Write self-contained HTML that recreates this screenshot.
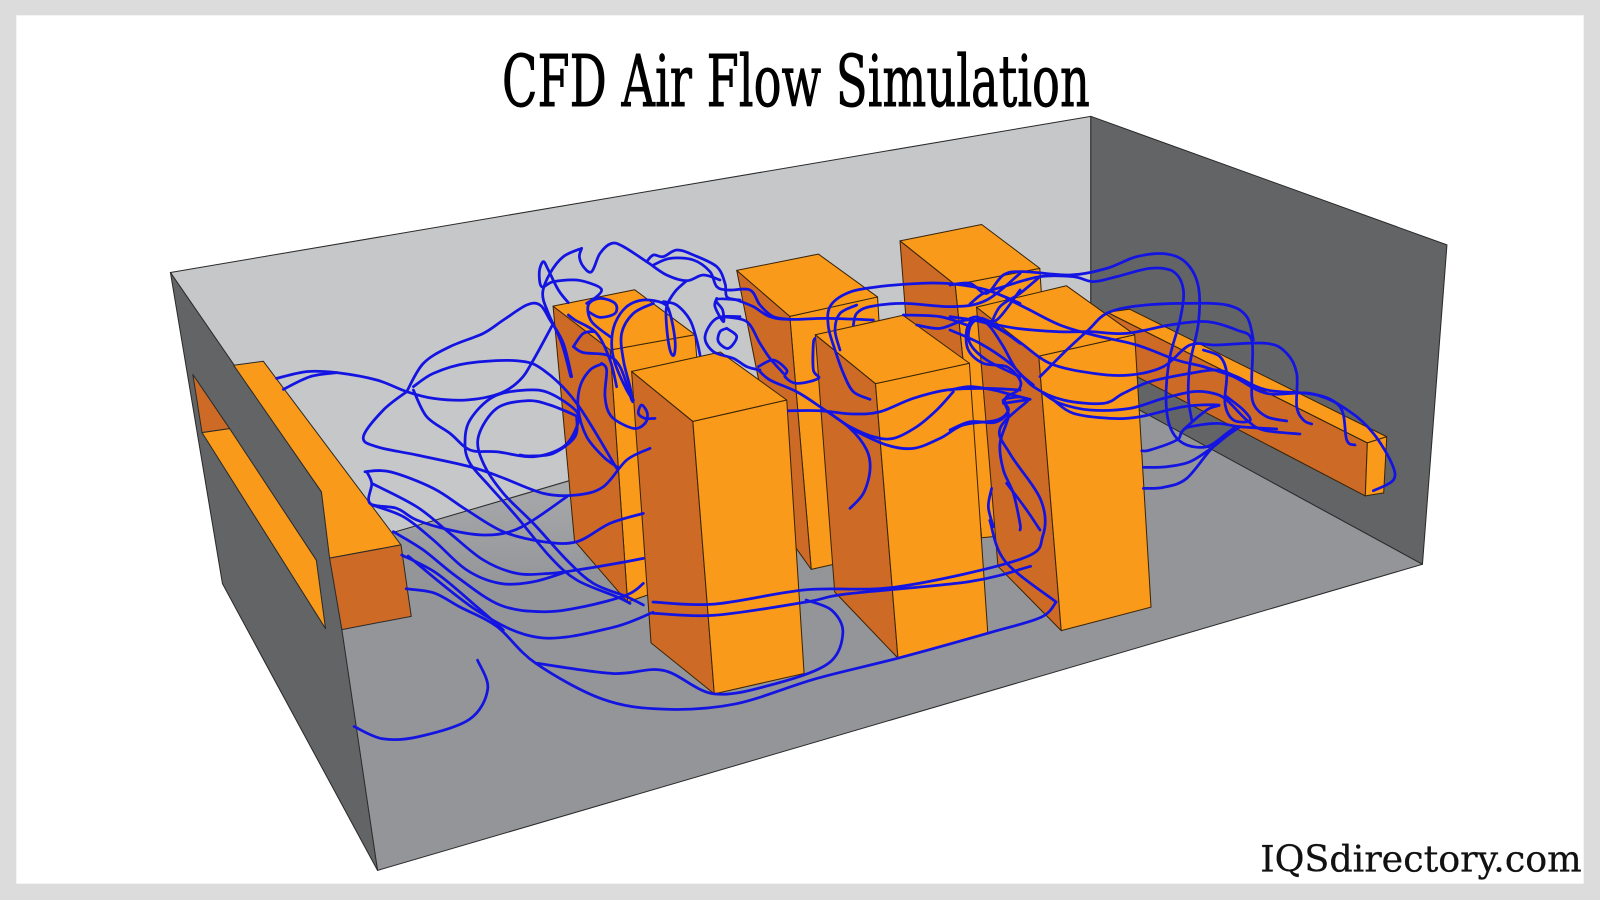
<!DOCTYPE html>
<html><head><meta charset="utf-8"><title>CFD Air Flow Simulation</title>
<style>html,body{margin:0;padding:0;background:#dcdcdc}svg{display:block}</style></head>
<body>
<svg xmlns="http://www.w3.org/2000/svg" width="1600" height="900" viewBox="0 0 1568 882">
<defs><linearGradient id="fp" x1="0" y1="0" x2="0" y2="1"><stop offset="0" stop-color="#a8a9ab"/><stop offset="1" stop-color="#939598"/></linearGradient></defs>
<rect width="1568" height="882" fill="#dcdcdc"/>
<rect x="16" y="15" width="1536" height="851" fill="#fff"/>
<g stroke="#2a2a2a" stroke-width="1" stroke-linejoin="round">
<polygon points="167,267 1069,114 1069,330 385,522 330,540" fill="#c5c7c9"/>
<polygon points="1069,114 1418,240 1394,553 1069,376" fill="#636466"/>
<polygon points="385,522 558,471 1069,322 1117,402 1394,553 370,853 320,540" fill="#939598"/>
<polygon points="387,522 558,472 575,560 470,575" fill="url(#fp)" stroke="none"/>
<polygon points="167,267 218,572 370,853 315,482" fill="#636466"/>
<polygon points="189,367 198,424 225,420" fill="#cd6b26"/>
<polygon points="198,424 225,420 310,549 319,616" fill="#fa9a1a"/>
<polygon points="229,358 258,354 393,534 323,547 315,482" fill="#fa9a1a"/>
<polygon points="323,547 393,534 403,604 335,617" fill="#cd6b26"/>
</g>
<g stroke="#3a2408" stroke-width="1" stroke-linejoin="round">
<!-- col 1 -->
<polygon points="598,343 681,328 700,560 615,590" fill="#fa9a1a"/>
<polygon points="542,300 598,343 615,590 563,530" fill="#cd6b26"/>
<polygon points="542,300 622,284 681,328 598,343" fill="#fa9a1a"/>
<!-- col 2 -->
<polygon points="774,310 860,291 875,540 795,558" fill="#fa9a1a"/>
<polygon points="722,265 774,310 795,558 775,530" fill="#cd6b26"/>
<polygon points="722,265 802,249 860,291 774,310" fill="#fa9a1a"/>
<!-- col 3 -->
<polygon points="936,279 1019,263 1035,520 962,527" fill="#fa9a1a"/>
<polygon points="882,236 936,279 962,527 900,470" fill="#cd6b26"/>
<polygon points="882,236 962,220 1019,263 936,279" fill="#fa9a1a"/>
<!-- beam -->
<polygon points="1085,306 1340,434 1338,486 1114,369 1090,360" fill="#cd6b26"/>
<polygon points="1085,306 1107,303 1359,428 1340,434" fill="#fa9a1a"/>
<polygon points="1340,434 1359,428 1356,483 1338,486" fill="#fa9a1a"/>
<!-- col 5 -->
<polygon points="619,364 679,413 700,680 638,630" fill="#cd6b26"/>
<polygon points="679,413 771,392 788,660 700,680" fill="#fa9a1a"/>
<polygon points="619,364 706,345 771,392 679,413" fill="#fa9a1a"/>
<!-- col 6 -->
<polygon points="799,328 858,376 880,645 818,580" fill="#cd6b26"/>
<polygon points="858,376 950,356 968,620 880,645" fill="#fa9a1a"/>
<polygon points="799,328 885,309 950,356 858,376" fill="#fa9a1a"/>
<!-- col 7 -->
<polygon points="957,301 1018,349 1040,618 978,555" fill="#cd6b26"/>
<polygon points="1018,349 1112,328 1128,595 1040,618" fill="#fa9a1a"/>
<polygon points="957,301 1045,280 1112,328 1018,349" fill="#fa9a1a"/>
</g>
<g id="lines" fill="none" stroke="#1414e2" stroke-width="2.7" stroke-linecap="round" stroke-linejoin="round"></g>
<text x="492" y="104" font-family="'DejaVu Serif','Liberation Serif',serif" font-size="70" fill="#000" stroke="#000" stroke-width="0.9" textLength="576" lengthAdjust="spacingAndGlyphs">CFD Air Flow Simulation</text>
<text x="1235" y="854" font-family="'DejaVu Serif','Liberation Serif',serif" font-size="36" fill="#111" stroke="#111" stroke-width="0.3" textLength="315" lengthAdjust="spacingAndGlyphs">IQSdirectory.com</text>
</svg>
<script>
var A=[
[380,445,470,425,560,428,680,450,770,485,850,505,950,510,1050,490,1110,450,1150,390,1210,280],
[400,478,480,440,560,428],
[770,485,700,540,640,620,680,650,800,675,960,710,1050,740,1180,790,1280,795,1360,770,1430,690,1500,655],
[770,485,820,400,900,350,1000,310,1060,270,1130,225,1170,225,1200,270,1240,340,1265,440],
[790,480,830,560,900,610,960,660,1040,665,1150,680,1240,650,1280,590,1280,545,1200,490,1130,480,1030,500,960,570,945,640,960,700,1020,770,1100,860,1200,980,1280,1050,1400,1100,1440,1120],
[790,470,850,430,950,400,1100,392,1180,420,1280,520,1400,715],
[1285,560,1200,525,1130,512,1040,535,985,620,1000,700,1060,790,1150,880,1250,990,1330,1060,1430,1100,1480,1125],
[645,725,720,725,850,775,950,840,1060,905,1180,935,1280,935,1380,880,1480,850],
[650,725,665,760,660,820,740,835,800,870,900,900,1000,915,1080,905,1150,870,1250,800],
[665,760,800,830,900,910,1000,990,1100,1030,1200,1030,1280,1020,1400,1000,1480,985],
[665,825,760,860,850,930,950,1020,1050,1060,1150,1055,1250,1025],
[730,905,820,960,920,1040,1050,1125,1180,1145,1300,1130,1430,1095,1480,1060],
[755,975,860,1030,980,1130,1060,1200]
];
var B=[
[185,115,130,140,90,190,68,250,85,310,125,400,152,500],
[145,278,115,240,85,180,70,155,58,185,65,230,100,215,170,210,225,225,245,240,230,260,200,280],
[185,115,178,140,190,170,215,185,240,130,275,100,310,110,380,155,440,195,500,212,550,195,600,210],
[500,212,465,245,440,290,440,350,450,420,462,435,465,390,450,310,430,280,370,270,320,290,285,340,275,400,285,460,320,540,340,570],
[430,275,470,285,510,330,530,390,540,435],
[270,380,215,335,205,285,240,265,285,280,285,310,240,322,205,305],
[400,280,340,310,305,370,310,450,330,530,338,575],
[145,315,165,330,230,370,270,450,290,530],
[160,410,190,370,225,365],
[160,410,190,428,260,435,300,470,335,570],
[245,460,260,480,255,560,275,620,340,655,375,640,382,610,365,585,355,610,375,625,405,625],
[245,462,210,480,180,530,175,600,200,680,250,740,290,770],
[170,620,165,680,100,730,30,738,0,735],
[380,155,400,135,430,140,470,120,520,135,590,170,615,220,620,260,650,270,700,290,750,320,810,328,920,325,1060,330],
[400,165,450,145,520,150,570,185,590,230,625,240,690,240,720,285,760,320,810,328],
[590,265,585,290,610,335,608,300,590,268,660,270],
[660,320,590,325,555,380,580,425,640,445,680,470,720,480],
[620,355,650,380,625,415,595,395,600,365,620,355],
[610,320,680,335,720,400,750,445,790,490],
[715,470,760,450,800,480,795,500,830,520,895,505,880,480,880,400,885,385],
[715,480,750,510,830,545,900,590,990,655,1040,720,1050,780,1030,850,990,895],
[805,602,900,602,1000,612,1080,605,1180,565,1280,540,1400,535,1500,540],
[930,610,990,650,1060,680,1120,685,1190,650,1250,600,1300,545],
[1000,660,1100,705,1180,715,1260,685,1330,645,1430,630,1465,600,1450,570,1500,560],
[1050,568,1000,545,970,490,945,420,925,350,930,290,980,250,1060,232,1200,220,1300,222,1400,240,1500,280],
[1000,345,1010,310,1050,290,1150,280,1300,290,1400,270,1500,190],
[960,420,945,360,960,310,1010,285],
[1150,315,1260,320,1340,345],
[1190,345,1260,355,1340,330,1420,345,1500,400],
[1500,240,1430,330,1380,325,1350,350,1350,400,1400,450,1500,500]
];
var C=[
[0,165,60,160,110,190,160,135,220,125,360,135,470,115,560,80,650,72,710,100,745,170,745,280,720,400,715,500,725,570],
[60,222,100,190,160,170,270,140,370,140,430,155,500,140,600,115,670,125,700,180,690,270,660,380,648,500,660,590,700,640,770,650,830,610,850,595],
[120,290,150,230,210,190,270,140],
[120,280,200,295,320,305,420,305,530,310,660,285,770,275,860,300,905,330,905,450,910,520,950,560,1010,573],
[0,260,110,280,200,330,300,400,430,430,540,435,640,410,720,345,800,345,950,340,1010,370,1040,430,1040,530,1060,570,1085,582],
[270,440,350,360,415,300,470,250,560,228,700,220,830,225,890,260,910,330],
[170,205,230,235,330,285,430,315,560,345,680,390,760,410,850,440,950,490,1080,490,1170,530,1190,630,1215,645],
[0,300,90,340,180,400,250,470,340,510,460,520,520,490,600,455,720,430,800,420,860,440,950,480,1100,495,1200,545,1270,610,1325,700,1330,750,1270,782],
[0,480,60,470,130,480,170,490,240,508],
[160,520,240,508],
[280,490,330,520,420,540,540,535,640,505,730,485,790,490,830,510,890,570,940,600,1050,612],
[310,510,370,550,480,565,570,560,700,530,805,525,770,540,700,600,680,630,600,660,575,662],
[700,600,720,590,800,580,870,590,980,597],
[760,360,810,380,830,430,825,520,850,570,900,572,880,540,830,500],
[580,712,650,710,720,695,790,650,850,600],
[580,775,640,772,710,745,790,650,870,590],
[70,262,50,300,55,360,100,400,170,410,210,450,205,480,170,500,165,520,175,560,150,640,160,720,190,790,210,880,210,900],
[60,265,85,262,120,290,160,350,200,420,250,465],
[170,760,230,840,270,900],
[125,775,115,830,130,890],
[0,600,60,575,130,578,165,560,175,540]
];
var D=[
[640,590,700,592,790,578,880,575,1000,548,1022,525,1020,490,990,445,980,420,1007,393],
[640,601,700,603,790,590,830,582,950,570,1010,555],
[526,650,600,660,650,657,700,680,760,670,812,650,826,620,815,598,790,588],
[468,647,478,675,460,705,410,722,375,724,347,712],
[398,577,425,581,451,595,487,614,525,650,590,685,650,695,720,690,800,665,880,645,970,620,1020,605,1035,590],
[400,545,470,600,530,625,600,615,640,600],
[970,510,985,550,1035,590]
];
function add(list,tx,ty,s){
 var g=document.getElementById('lines');
 list.forEach(function(a){
  var p=[];for(var i=0;i<a.length;i+=2)p.push([tx+a[i]*s,ty+a[i+1]*s]);
  var d='M'+p[0][0].toFixed(1)+' '+p[0][1].toFixed(1);
  for(i=0;i<p.length-1;i++){
   var p0=p[Math.max(0,i-1)],p1=p[i],p2=p[i+1],p3=p[Math.min(p.length-1,i+2)];
   d+='C'+(p1[0]+(p2[0]-p0[0])/6).toFixed(1)+' '+(p1[1]+(p2[1]-p0[1])/6).toFixed(1)+' '+(p2[0]-(p3[0]-p1[0])/6).toFixed(1)+' '+(p2[1]-(p3[1]-p1[1])/6).toFixed(1)+' '+p2[0].toFixed(1)+' '+p2[1].toFixed(1);
  }
  var e=document.createElementNS('http://www.w3.org/2000/svg','path');
  e.setAttribute('d',d);g.appendChild(e);
 });
}
add(A,147,225.4,.3267);
add(B,509.6,205.8,.3267);
add(C,931,225.4,.3267);
add(D,0,0,1);
</script>
</body></html>
